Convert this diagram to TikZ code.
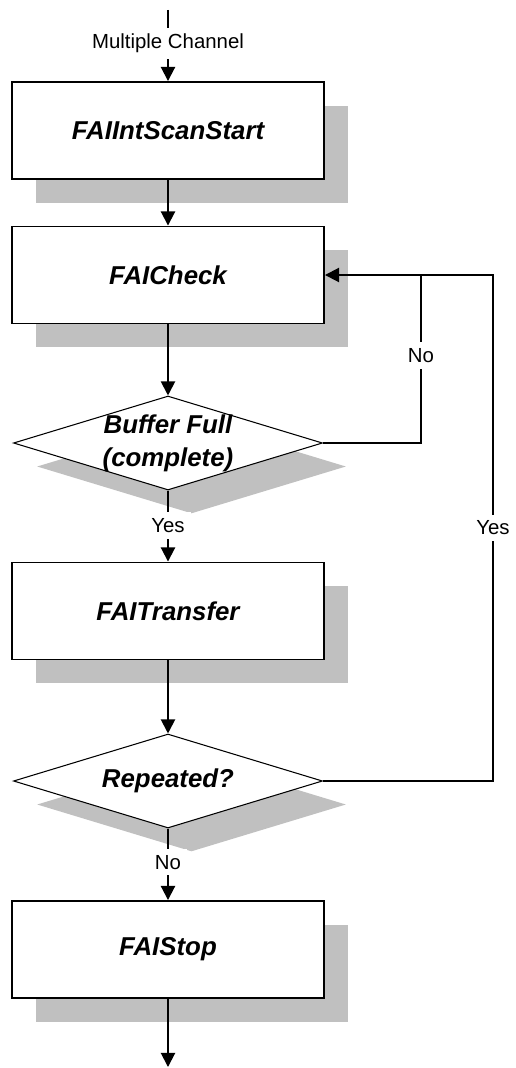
\documentclass[tikz,border=0pt]{standalone}
\usepackage{fontspec}
\setmainfont{Liberation Sans}
\usetikzlibrary{shapes.geometric, shadows, positioning, calc, arrows.meta}
\definecolor{grigioombra}{RGB}{192,192,192}

\begin{document}
\begin{tikzpicture}
        [>={Triangle[length=8pt,width=8pt]},
        ombra/.style={drop shadow={shadow xshift=0.47cm, shadow yshift=-0.47cm, fill=grigioombra, opacity=1}},
        processo/.style={draw, line width=1.1pt, fill=white, ombra, minimum width=6.24cm, minimum height=1.94cm, font=\fontsize{14.7}{18.7}\selectfont\bfseries\itshape},
        decisione/.style={diamond, draw, line width=0.6pt, fill=white, ombra, minimum width=6.18cm, minimum height=1.88cm, inner sep=0pt},
        testo/.style={align=center, font=\fontsize{14.7}{18.7}\selectfont\bfseries\itshape},
        etichetta/.style={fill=white, inner sep=3.5pt, font=\fontsize{11.6}{14}\selectfont},
        freccia/.style={->, line width=1.1pt}]
        \useasboundingbox (0,0) rectangle (10.3,-21.36);
        %blocchi
            \node[processo] (avvio) at (3.36,-2.61) {FAIIntScanStart};
            \node[processo] (controllo) at (3.36,-5.5) {FAICheck};
            \node[decisione] (pieno) at (3.36,-8.86) {};
            \node[testo] (pienotesto) at (pieno) {Buffer Full\\(complete)};
            \node[processo] (trasferimento) at (3.36,-12.22) {FAITransfer};
            \node[decisione] (ripetuto) at (3.36,-15.62) {};
            \node[testo] (ripetutotesto) at (ripetuto) {Repeated?};
            \node[processo] (arresto) at (3.36,-18.99) {FAIStop};
        %punti di ingresso, uscita e ritorno
            \coordinate (ingresso) at (3.36,-0.2);
            \coordinate (uscita) at (3.36,-21.34);
            \coordinate (ritornosi) at (9.86,-5.5);
            \coordinate (ritornono) at (8.42,-5.5);
        %collegamenti
            \draw[freccia] (ingresso) -- node[etichetta, pos=0.47]{Multiple Channel} (avvio);
            \draw[freccia] (avvio) -- (controllo);
            \draw[freccia] (controllo) -- (pieno);
            \draw[freccia] (pieno) -- node[etichetta, pos=0.49]{Yes} (trasferimento);
            \draw[freccia] (trasferimento) -- (ripetuto);
            \draw[freccia] (ripetuto) -- node[etichetta, pos=0.47]{No} (arresto);
            \draw[freccia] (arresto) -- (uscita);
        %ritorni
            \draw[freccia] (ripetuto.east) -| node[etichetta, pos=0.75]{Yes} (ritornosi) -- (controllo.east);
            \draw[line width=1.1pt] (pieno.east) -| node[etichetta, pos=0.76]{No} (ritornono);
    \end{tikzpicture}
\end{document}
